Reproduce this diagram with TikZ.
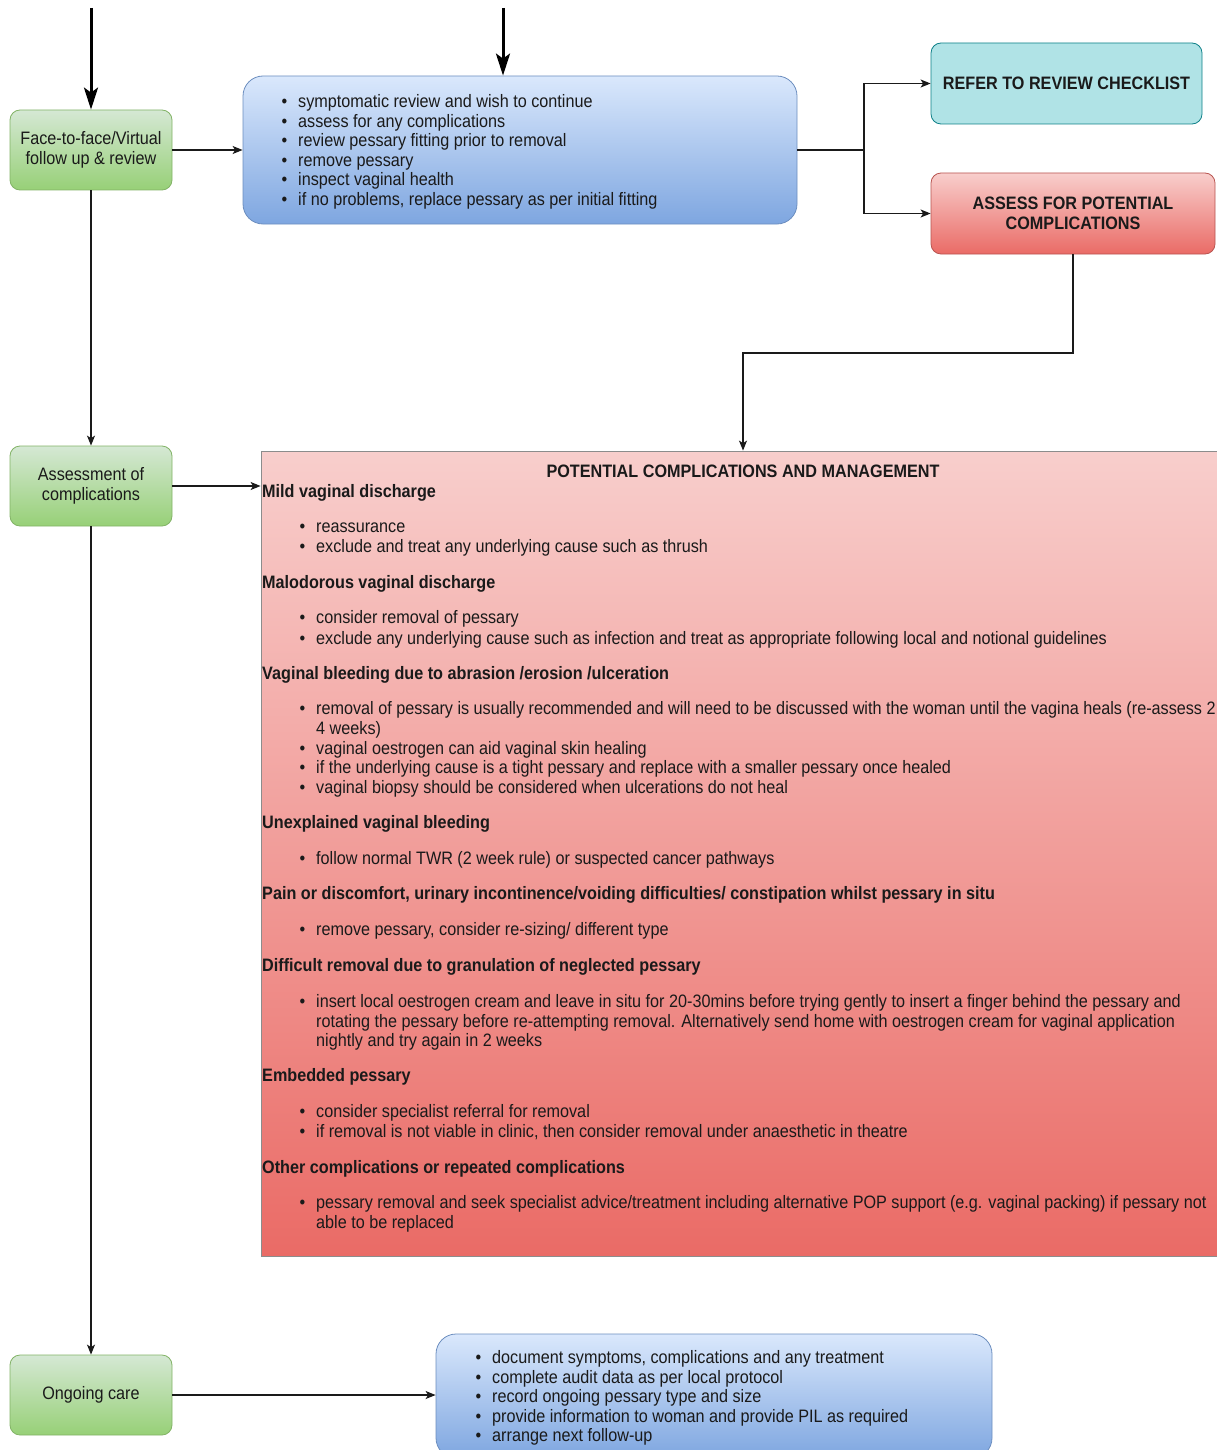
\documentclass[tikz,border=0pt]{standalone}
\usepackage{fontspec}
\setmainfont{Liberation Sans}[FakeStretch=0.9]
\usetikzlibrary{arrows.meta}

\definecolor{ink}{HTML}{1A1A1A}
\definecolor{greenTop}{HTML}{D5E8D4}
\definecolor{greenBot}{HTML}{97D077}
\definecolor{greenLine}{HTML}{82B366}
\definecolor{blueTop}{HTML}{DAE8FC}
\definecolor{blueBot}{HTML}{7EA6E0}
\definecolor{blueLine}{HTML}{6C8EBF}
\definecolor{redTop}{HTML}{F8CECC}
\definecolor{redBot}{HTML}{EA6B66}
\definecolor{redLine}{HTML}{B85450}
\definecolor{tealFill}{HTML}{B0E3E6}
\definecolor{tealLine}{HTML}{0E8088}
\definecolor{panelLine}{HTML}{8C8C8C}

\newcommand{\dotitem}[1]{\llap{\textbullet\hspace{11pt}}#1}

\begin{document}
\begin{tikzpicture}[x=1pt,y=-1pt,
  every node/.style={font=\fontsize{18}{19.6}\selectfont, text=ink},
  stage/.style={draw=greenLine, line width=0.8pt, rounded corners=10pt,
    top color=greenTop, bottom color=greenBot, align=center,
    minimum width=162pt, minimum height=80pt, inner sep=2pt},
  listbox/.style={draw=blueLine, line width=0.8pt, rounded corners=20pt,
    top color=blueTop, bottom color=blueBot},
  redbox/.style={draw=redLine, line width=0.8pt, rounded corners=10pt,
    top color=redTop, bottom color=redBot, align=center,
    font=\fontsize{18}{19.6}\selectfont\bfseries},
  tealbox/.style={draw=tealLine, line width=0.8pt, rounded corners=10pt,
    fill=tealFill, align=center, font=\fontsize{18}{19.6}\selectfont\bfseries},
  panel/.style={draw=panelLine, line width=0.8pt, top color=redTop, bottom color=redBot},
  line/.style={draw=ink, line width=1.3pt},
  arr/.style={line, -{Stealth[length=10pt,width=8pt,inset=2.5pt]}},
  bigarr/.style={draw=black, line width=3pt, -{Stealth[length=22pt,width=14pt,inset=5pt]}},
  item/.style={anchor=base west, inner sep=0pt, yshift=-1.5pt},
  head/.style={anchor=base west, inner sep=0pt, yshift=-1.5pt, font=\fontsize{18}{19.6}\selectfont\bfseries}]

\useasboundingbox (0,0) rectangle (1217,1450);

% ---- boxes ----
\node[stage] (face) at (91,150) {Face-to-face/Virtual\\follow up \& review};
\node[stage] (assessment) at (91,486) {Assessment of\\complications};
\node[stage] (ongoing) at (91,1395) {Ongoing care};

\node[listbox, minimum width=554pt, minimum height=148pt] (review) at (520,150) {};
\node[tealbox, minimum width=271pt, minimum height=81pt] (refer) at (1066.5,83.5) {REFER TO REVIEW CHECKLIST};
\node[redbox, minimum width=284pt, minimum height=81pt] (assess) at (1073,213.5) {ASSESS FOR POTENTIAL\\COMPLICATIONS};

\node[panel, minimum width=964pt, minimum height=805pt, inner sep=0pt] (panel) at (743,853.5) {};

\node[listbox, minimum width=556pt, minimum height=124pt] (care) at (714,1396) {};

% ---- review checklist items ----
\node[item] (r1) at (298,106) {\dotitem{symptomatic review and wish to continue}};
\node[item] (r2) at (298,125.6) {\dotitem{assess for any complications}};
\node[item] (r3) at (298,145.2) {\dotitem{review pessary fitting prior to removal}};
\node[item] (r4) at (298,164.8) {\dotitem{remove pessary}};
\node[item] (r5) at (298,184.4) {\dotitem{inspect vaginal health}};
\node[item] (r6) at (298,204) {\dotitem{if no problems, replace pessary as per initial fitting}};

% ---- complications panel ----
\node[anchor=base, inner sep=0pt, yshift=-1.5pt, font=\fontsize{18}{19.6}\selectfont\bfseries] (ptitle) at (743,476) {POTENTIAL COMPLICATIONS AND MANAGEMENT};

\node[head] (h1) at (262,496) {Mild vaginal discharge};
\node[item] (h1a) at (316,531) {\dotitem{reassurance}};
\node[item] (h1b) at (316,551) {\dotitem{exclude and treat any underlying cause such as thrush}};

\node[head] (h2) at (262,587) {Malodorous vaginal discharge};
\node[item] (h2a) at (316,622) {\dotitem{consider removal of pessary}};
\node[item] (h2b) at (316,643) {\dotitem{exclude any underlying cause such as infection and treat as appropriate following local and notional guidelines}};

\node[head] (h3) at (262,678) {Vaginal bleeding due to abrasion /erosion /ulceration};
\node[item] (h3a) at (316,713) {\dotitem{removal of pessary is usually recommended and will need to be discussed with the woman until the vagina heals (re-assess 2}};
\node[item] (h3a2) at (316,733) {4 weeks)};
\node[item] (h3b) at (316,752.5) {\dotitem{vaginal oestrogen can aid vaginal skin healing}};
\node[item] (h3c) at (316,772) {\dotitem{if the underlying cause is a tight pessary and replace with a smaller pessary once healed}};
\node[item] (h3d) at (316,792) {\dotitem{vaginal biopsy should be considered when ulcerations do not heal}};

\node[head] (h4) at (262,827) {Unexplained vaginal bleeding};
\node[item] (h4a) at (316,863) {\dotitem{follow normal TWR (2 week rule) or suspected cancer pathways}};

\node[head] (h5) at (262,898) {Pain or discomfort, urinary incontinence/voiding difficulties/ constipation whilst pessary in situ};
\node[item] (h5a) at (316,934) {\dotitem{remove pessary, consider re-sizing/ different type}};

\node[head] (h6) at (262,970) {Difficult removal due to granulation of neglected pessary};
\node[item] (h6a) at (316,1006) {\dotitem{insert local oestrogen cream and leave in situ for 20-30mins before trying gently to insert a finger behind the pessary and}};
\node[item] (h6a2) at (316,1026) {rotating the pessary before re-attempting removal. Alternatively send home with oestrogen cream for vaginal application};
\node[item] (h6a3) at (316,1045) {nightly and try again in 2 weeks};

\node[head] (h7) at (262,1080) {Embedded pessary};
\node[item] (h7a) at (316,1116) {\dotitem{consider specialist referral for removal}};
\node[item] (h7b) at (316,1136) {\dotitem{if removal is not viable in clinic, then consider removal under anaesthetic in theatre}};

\node[head] (h8) at (262,1172) {Other complications or repeated complications};
\node[item] (h8a) at (316,1207) {\dotitem{pessary removal and seek specialist advice/treatment including alternative POP support (e.g. vaginal packing) if pessary not}};
\node[item] (h8a2) at (316,1227) {able to be replaced};

% ---- ongoing care items ----
\node[item] (c1) at (492,1362) {\dotitem{document symptoms, complications and any treatment}};
\node[item] (c2) at (492,1381.5) {\dotitem{complete audit data as per local protocol}};
\node[item] (c3) at (492,1401) {\dotitem{record ongoing pessary type and size}};
\node[item] (c4) at (492,1420.5) {\dotitem{provide information to woman and provide PIL as required}};
\node[item] (c5) at (492,1440) {\dotitem{arrange next follow-up}};

% ---- connectors ----
\coordinate (inA) at (91,8);
\coordinate (inB) at (503,8);
\draw[bigarr] (inA) -- (face.north);
\draw[bigarr] (inB) -- (inB |- review.north);

\draw[arr] (face.east) -- (review.west);
\coordinate (split) at (864,150);
\draw[line] (review.east) -- (split);
\draw[arr] (split) |- (refer.west);
\draw[arr] (split) |- (assess.west);

\coordinate (bend) at (743,353);
\draw[arr] (assess.south) |- (bend) -- (panel.north);

\draw[arr] (face.south) -- (assessment.north);
\draw[arr] (assessment.east) -- (panel.west |- assessment.east);
\draw[arr] (assessment.south) -- (ongoing.north);
\draw[arr] (ongoing.east) -- (care.west |- ongoing.east);
\end{tikzpicture}
\end{document}
